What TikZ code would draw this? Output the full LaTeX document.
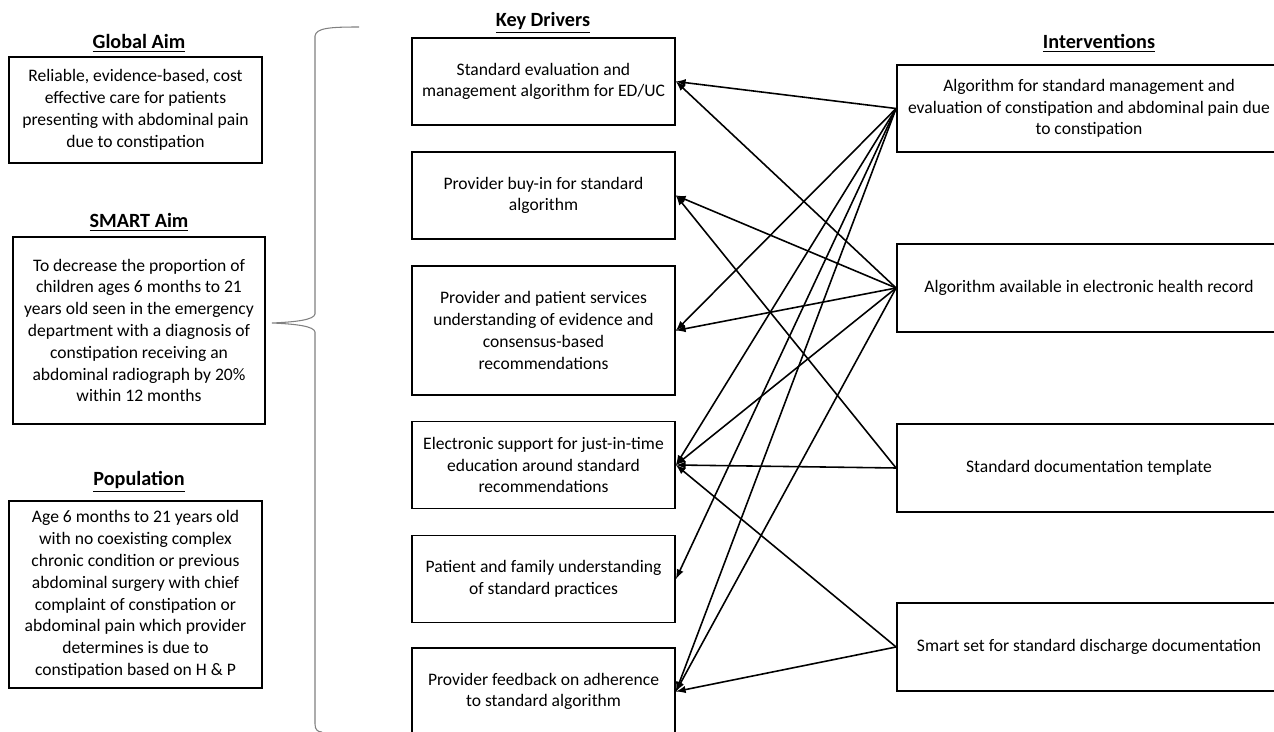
\documentclass[tikz,border=0pt]{standalone}
\usepackage{fontspec}
\setmainfont{Carlito}
\usetikzlibrary{arrows}

\begin{document}
\begin{tikzpicture}[x=0.02cm,y=-0.02cm,
    boxstyle/.style={rectangle, draw=black, line width=1.1pt, align=center, inner sep=2pt, font=\fontsize{10}{12.4}\selectfont},
    drvstyle/.style={boxstyle, minimum width=5.26cm, minimum height=1.74cm},
    intstyle/.style={boxstyle, minimum width=7.68cm, minimum height=1.75cm},
    headstyle/.style={font=\fontsize{11.5}{14}\selectfont\bfseries},
    linkstyle/.style={-latex, line width=0.9pt}]
    \useasboundingbox (0,0) rectangle (1274,732);
    % left column
    \node (tglobal) at (139,43)[headstyle]{\underline{Global Aim}};
    \node (global) at (135.5,110)[boxstyle, minimum width=5.06cm, minimum height=2.12cm]{Reliable, evidence-based, cost\\effective care for patients\\presenting with abdominal pain\\due to constipation};
    \node (tsmart) at (139,222)[headstyle]{\underline{SMART Aim}};
    \node (smart) at (139,330.5)[boxstyle, minimum width=5.04cm, minimum height=3.74cm]{To decrease the proportion of\\children ages 6 months to 21\\years old seen in the emergency\\department with a diagnosis of\\constipation receiving an\\abdominal radiograph by 20\%\\within 12 months};
    \node (tpop) at (139,482)[headstyle]{\underline{Population}};
    \node (pop) at (135.5,594.5)[boxstyle, minimum width=5.06cm, minimum height=3.74cm]{Age 6 months to 21 years old\\with no coexisting complex\\chronic condition or previous\\abdominal surgery with chief\\complaint of constipation or\\abdominal pain which provider\\determines is due to\\constipation based on H \& P};
    % brace
    \draw[gray, line width=0.6pt] (359,27) .. controls (330,27) and (316,28) .. (315,36) -- (315,314)
        .. controls (314,320) and (295,322) .. (272,323) .. controls (295,324) and (314,326) .. (315,332)
        -- (315,724) .. controls (315,730) and (318,732) .. (322,732);
    % key drivers
    \node (tdrv) at (543,23)[headstyle]{\underline{Key Drivers}};
    \node (d1) at (543.5,81.5)[drvstyle]{Standard evaluation and\\management algorithm for ED/UC};
    \node (d2) at (543.5,195.5)[drvstyle]{Provider buy-in for standard\\algorithm};
    \node (d3) at (543.5,330.5)[drvstyle, minimum height=2.58cm]{Provider and patient services\\understanding of evidence and\\consensus-based\\recommendations};
    \node (d4) at (543.5,465)[drvstyle]{Electronic support for just-in-time\\education around standard\\recommendations};
    \node (d5) at (543.5,579)[drvstyle]{Patient and family understanding\\of standard practices};
    \node (d6) at (543.5,691.5)[drvstyle]{Provider feedback on adherence\\to standard algorithm};
    % interventions
    \node (tint) at (1099,43)[headstyle]{\underline{Interventions}};
    \node (i1) at (1089,108.5)[intstyle]{Algorithm for standard management and\\evaluation of constipation and abdominal pain due\\to constipation};
    \node (i2) at (1089,288)[intstyle]{Algorithm available in electronic health record};
    \node (i3) at (1089,468)[intstyle]{Standard documentation template};
    \node (i4) at (1089,647)[intstyle]{Smart set for standard discharge documentation};
    % links
    \draw[linkstyle] (i1.west) -- (d1.east);
    \draw[linkstyle] (i1.west) -- (d3.east);
    \draw[linkstyle] (i1.west) -- (d4.east);
    \draw[linkstyle] (i1.west) -- (d5.east);
    \draw[linkstyle] (i1.west) -- (d6.east);
    \draw[linkstyle] (i2.west) -- (d1.east);
    \draw[linkstyle] (i2.west) -- (d2.east);
    \draw[linkstyle] (i2.west) -- (d3.east);
    \draw[linkstyle] (i2.west) -- (d4.east);
    \draw[linkstyle] (i2.west) -- (d6.east);
    \draw[linkstyle] (i3.west) -- (d2.east);
    \draw[linkstyle] (i3.west) -- (d4.east);
    \draw[linkstyle] (i4.west) -- (d4.east);
    \draw[linkstyle] (i4.west) -- (d6.east);
\end{tikzpicture}
\end{document}
